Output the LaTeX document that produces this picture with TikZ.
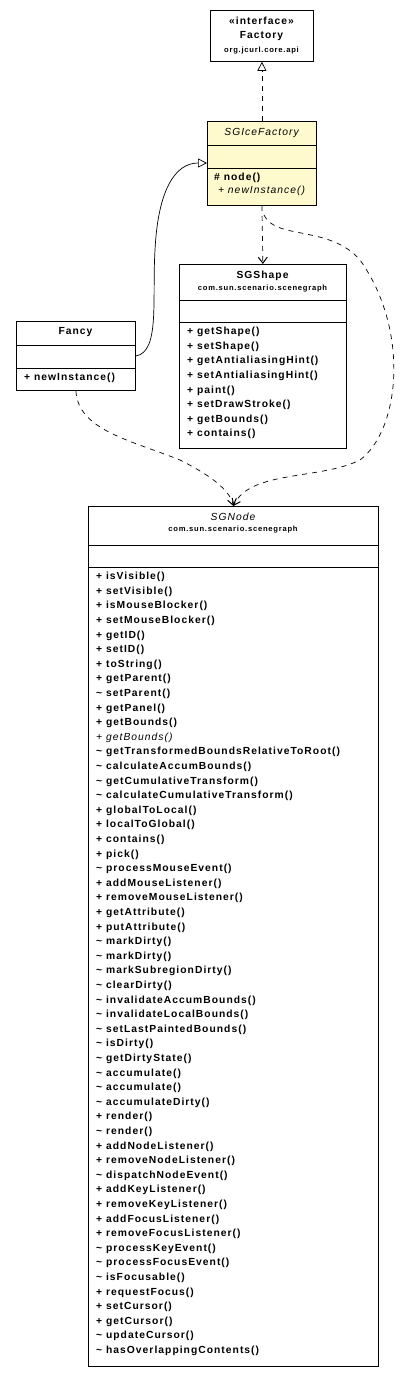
\documentclass[tikz,border=0pt]{standalone}
\usepackage{fontspec}
\setmainfont{Liberation Sans}[LetterSpace=10]
\usetikzlibrary{arrows.meta}
\definecolor{note}{RGB}{255,250,205}
\begin{document}
\begin{tikzpicture}[x=1pt,y=-1pt,
  box/.style={draw,line width=0.8pt,anchor=north west,inner sep=0pt},
  nm/.style={font=\fontsize{10.3}{11}\selectfont\bfseries,inner sep=0pt},
  pk/.style={font=\fontsize{7.6}{8}\selectfont\bfseries,inner sep=0pt},
  ops/.style={font=\fontsize{10.3}{14.6}\selectfont\bfseries,align=left,anchor=north west,inner sep=0pt},
  dep/.style={dashed,line width=0.7pt,dash pattern=on 5pt off 5pt,-{Straight Barb[length=6pt,width=9pt,line width=1pt]}},
  real/.style={dashed,line width=0.7pt,dash pattern=on 5pt off 5pt,-{Triangle[open,length=9pt,width=9pt]}},
  gen/.style={line width=0.7pt,-{Triangle[open,length=9pt,width=9pt]}}]
\useasboundingbox[fill=white] (0,0) rectangle (407,1376);
% Factory
\node[box,minimum width=103pt,minimum height=51pt] (fac) at (210,10) {};
\node[nm] (facs) at (261.5,21) {«interface»};
\node[nm] (facn) at (261.5,36) {Factory};
\node[pk] (facp) at (261.5,51) {org.jcurl.core.api};
% SGIceFactory
\node[box,fill=note,minimum width=109pt,minimum height=84pt] (ice) at (207,121) {};
\draw[line width=0.8pt] (207,145) -- (316,145) (207,168) -- (316,168);
\node[font=\fontsize{10.3}{11}\selectfont\itshape,inner sep=0pt] (icen) at (261.5,133) {SGIceFactory};
\node[ops] (iceo) at (214,173) {\# node()\\[-2pt]\mdseries\itshape\ + newInstance()};
% SGShape
\node[box,minimum width=167pt,minimum height=184pt] (shp) at (179,264) {};
\draw[line width=0.8pt] (179,300) -- (346,300) (179,322) -- (346,322);
\node[nm] (shpn) at (262.5,276) {SGShape};
\node[pk] (shpp) at (262.5,289) {com.sun.scenario.scenegraph};
\node[ops] (shpo) at (187,327) {+ getShape()\\+ setShape()\\+ getAntialiasingHint()\\+ setAntialiasingHint()\\+ paint()\\+ setDrawStroke()\\+ getBounds()\\+ contains()};
% Fancy
\node[box,minimum width=119pt,minimum height=69pt] (fan) at (16,321) {};
\draw[line width=0.8pt] (16,345) -- (135,345) (16,368) -- (135,368);
\node[nm] (fann) at (75.5,332) {Fancy};
\node[ops] (fano) at (24,373) {+ newInstance()};
% SGNode
\node[box,minimum width=290pt,minimum height=860pt] (sgn) at (88,506) {};
\draw[line width=0.8pt] (88,545) -- (378,545) (88,567) -- (378,567);
\node[font=\fontsize{10.3}{11}\selectfont\itshape,inner sep=0pt] (sgnn) at (233,517) {SGNode};
\node[pk] (sgnp) at (233,530) {com.sun.scenario.scenegraph};
\node[ops] (sgno) at (96,572) {+ isVisible()\\+ setVisible()\\+ isMouseBlocker()\\+ setMouseBlocker()\\+ getID()\\+ setID()\\+ toString()\\+ getParent()\\\textasciitilde\ setParent()\\+ getPanel()\\+ getBounds()\\{\mdseries\itshape + getBounds()}\\\textasciitilde\ getTransformedBoundsRelativeToRoot()\\\textasciitilde\ calculateAccumBounds()\\\textasciitilde\ getCumulativeTransform()\\\textasciitilde\ calculateCumulativeTransform()\\+ globalToLocal()\\+ localToGlobal()\\+ contains()\\+ pick()\\\textasciitilde\ processMouseEvent()\\+ addMouseListener()\\+ removeMouseListener()\\+ getAttribute()\\+ putAttribute()\\\textasciitilde\ markDirty()\\\textasciitilde\ markDirty()\\\textasciitilde\ markSubregionDirty()\\\textasciitilde\ clearDirty()\\\textasciitilde\ invalidateAccumBounds()\\\textasciitilde\ invalidateLocalBounds()\\\textasciitilde\ setLastPaintedBounds()\\\textasciitilde\ isDirty()\\\textasciitilde\ getDirtyState()\\\textasciitilde\ accumulate()\\\textasciitilde\ accumulate()\\\textasciitilde\ accumulateDirty()\\+ render()\\\textasciitilde\ render()\\+ addNodeListener()\\+ removeNodeListener()\\\textasciitilde\ dispatchNodeEvent()\\+ addKeyListener()\\+ removeKeyListener()\\+ addFocusListener()\\+ removeFocusListener()\\\textasciitilde\ processKeyEvent()\\\textasciitilde\ processFocusEvent()\\\textasciitilde\ isFocusable()\\+ requestFocus()\\+ setCursor()\\+ getCursor()\\\textasciitilde\ updateCursor()\\\textasciitilde\ hasOverlappingContents()};
% connectors
\draw[real] (ice.north) -- (fac.south);
\draw[gen] (fan.east |- 0,356) .. controls (160,352) and (152,300) .. (155,250) .. controls (158,190) and (175,163) .. (ice.west |- 0,163);
\draw[dep] (ice.south) -- (shp.north);
\draw[dep] (264,215) .. controls (275,240) and (330,225) .. (360,260) .. controls (410,330) and (400,430) .. (360,460) .. controls (320,480) and (250,470) .. (sgn.north);
\draw[dep] (fan.south) .. controls (78,430) and (130,440) .. (180,460) .. controls (210,475) and (230,490) .. (sgn.north);
\end{tikzpicture}
\end{document}
